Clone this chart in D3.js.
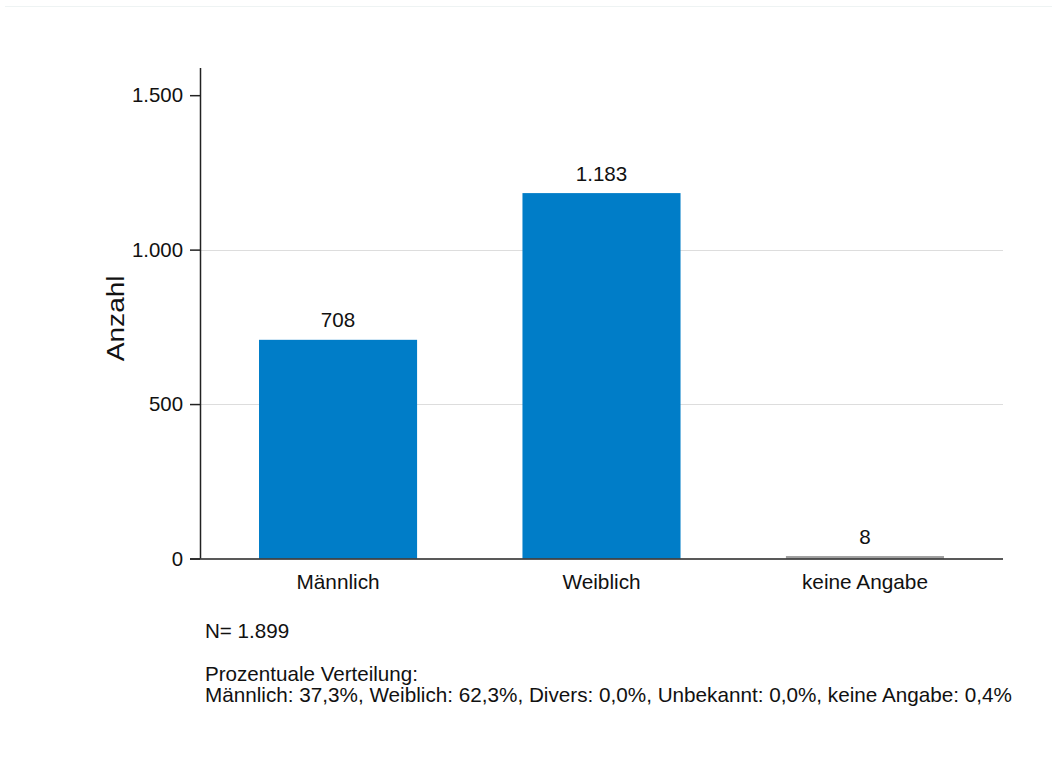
<!DOCTYPE html>
<html><head><meta charset="utf-8">
<script src="https://cdn.jsdelivr.net/npm/d3@7"></script>
<style>body{margin:0;background:#fff}svg{display:block}text{font-family:"Liberation Sans",Arial,sans-serif;fill:#111}</style>
</head><body><svg id="c" width="1052" height="767"></svg>
<script>
const categories = ["Männlich", "Weiblich", "keine Angabe"];
const values = [708, 1183, 8];
const barColors = ["#007dc8", "#007dc8", "#a0a0a0"];
const yTicks = [0, 500, 1000, 1500];
const yLabel = "Anzahl";
const footN = "N= 1.899";
const footTitle = "Prozentuale Verteilung:";
const footDist = "Männlich: 37,3%, Weiblich: 62,3%, Divers: 0,0%, Unbekannt: 0,0%, keine Angabe: 0,4%";

(function () {
const fmt = d3.formatLocale({decimal: ",", thousands: ".", grouping: [3], currency: ["", "€"]}).format(",d");
const FS = 20.6;
const FF = '"Liberation Sans",Arial,sans-serif';
const svg = d3.select("#c");
svg.append("line").attr("x1", 5).attr("x2", 1052).attr("y1", 6.5).attr("y2", 6.5).attr("stroke", "#eef3f3");

const mL = 200, mR = 1003, mT = 68, mB = 558.5;
const x = d3.scaleBand().domain(categories).range([mL, mR]).paddingInner(0.4).paddingOuter(0.224);
const y = d3.scaleLinear().domain([0, 1588]).range([mB, mT]);

// grid
svg.append("g").selectAll("line").data(yTicks.filter(t => t > 0 && t < 1500)).join("line")
  .attr("x1", mL).attr("x2", mR).attr("y1", d => Math.round(y(d)) + 0.5).attr("y2", d => Math.round(y(d)) + 0.5)
  .attr("stroke", "#dddddd");

// bars
svg.append("g").selectAll("rect").data(values).join("rect")
  .attr("x", (d, i) => x(categories[i])).attr("width", x.bandwidth())
  .attr("y", d => y(d)).attr("height", d => mB - y(d))
  .attr("fill", (d, i) => barColors[i]);

// value labels
svg.append("g").selectAll("text").data(values).join("text")
  .attr("x", (d, i) => x(categories[i]) + x.bandwidth() / 2).attr("y", d => y(d) - 12.5)
  .attr("text-anchor", "middle").attr("font-size", FS).text(d => fmt(d));

// y axis
const ya = svg.append("g").attr("transform", `translate(${mL},0)`)
  .call(d3.axisLeft(y).tickValues(yTicks).tickSize(10).tickPadding(7).tickFormat(d => fmt(d)));
ya.select(".domain").attr("d", `M0.5,${mT}V${mB}`).attr("stroke", "#222").attr("stroke-width", 1.5);
ya.selectAll(".tick line").attr("stroke", "#222").attr("stroke-width", 1.5);
ya.selectAll(".tick text").attr("font-size", 20.4).attr("fill", "#111").attr("font-family", FF);

// x axis
const xa = svg.append("g").attr("transform", `translate(0,${mB})`)
  .call(d3.axisBottom(x).tickSize(0).tickPadding(16));
xa.select(".domain").attr("d", `M${mL - 10},0.5H${mR}`).attr("stroke", "#222").attr("stroke-width", 1.5);
xa.selectAll(".tick text").attr("font-size", 20.8).attr("fill", "#111").attr("font-family", FF);

// y label
svg.append("text").attr("transform", `translate(124,318.3) rotate(-90) scale(1.17,1)`)
  .attr("text-anchor", "middle").attr("font-size", 24).text(yLabel);

// footnotes
svg.append("text").attr("x", 205).attr("y", 637.7).attr("font-size", FS).text(footN);
svg.append("text").attr("x", 205).attr("y", 680.7).attr("font-size", FS).text(footTitle);
svg.append("text").attr("x", 205).attr("y", 702).attr("font-size", 20.7).text(footDist);
})();
</script></body></html>
